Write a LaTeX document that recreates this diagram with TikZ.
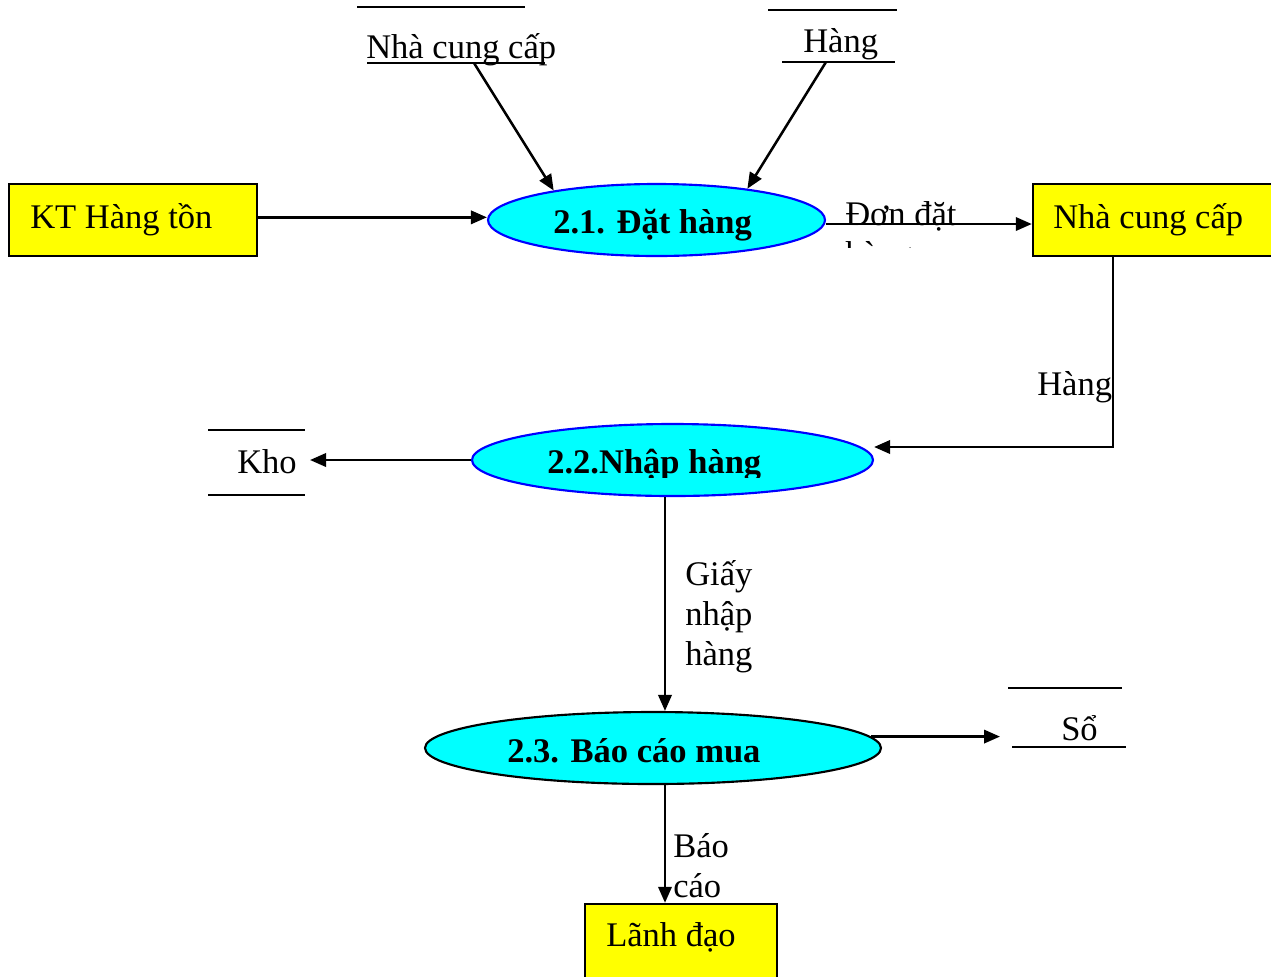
\documentclass[tikz,border=0pt]{standalone}
\usepackage{fontspec}
\setmainfont{Liberation Serif}
\usetikzlibrary{arrows.meta,shapes.geometric}
\definecolor{entfill}{RGB}{255,255,0}
\definecolor{procfill}{RGB}{0,255,255}
\definecolor{procline}{RGB}{0,0,255}
\begin{document}
\begin{tikzpicture}[x=0.75pt,y=-0.75pt,
  every node/.style={font=\fontsize{25.9pt}{30pt}\selectfont, inner sep=0pt},
  extbox/.style={rectangle, draw=black, line width=1.8pt, fill=entfill},
  proc/.style={ellipse, fill=procfill, draw=procline, line width=1.6pt, minimum height=54pt},
  lbl/.style={anchor=base west},
  mlbl/.style={anchor=base west, align=left},
  plbl/.style={anchor=base west, font=\fontsize{25.9pt}{30pt}\selectfont\bfseries},
  arr/.style={line width=1.9pt, -{Triangle[length=12pt,width=10pt]}},
  storeline/.style={line width=1.9pt}
]
\useasboundingbox (0,0) rectangle (1271,976);
\clip (0,0) rectangle (1271,976);

% external entities
\node[extbox, minimum width=186pt, minimum height=54pt] (kt) at (133,220) {};
\node[lbl] (ktt) at (30,228) {KT Hàng tồn};
\node[extbox, minimum width=192.75pt, minimum height=54pt] (ncc) at (1161.5,220) {};
\node[lbl] (ncct) at (1053,228) {Nhà cung cấp};
\node[extbox, minimum width=144pt, minimum height=64.5pt] (ld) at (681,947) {};
\node[lbl] (ldt) at (606,946) {Lãnh đạo};

% processes
\node[proc, minimum width=252.75pt] (p1) at (656.5,220) {};
\begin{scope}
  \clip (540,190) rectangle (770,241);
  \node[plbl] (p1t) at (553,233) {2.1. Đặt hàng};
\end{scope}
\node[proc, minimum width=300.75pt] (p2) at (672.5,460) {};
\begin{scope}
  \clip (530,430) rectangle (780,477);
  \node[plbl] (p2t) at (547,473) {2.2.Nhập hàng};
\end{scope}
\node[proc, draw=black, minimum width=342pt] (p3) at (653,748) {};
\node[plbl] (p3t) at (507,762) {2.3. Báo cáo mua};

% data stores
\draw[storeline] (357,7) -- (525,7);
\draw[storeline] (367,63) -- (545,63);
\coordinate (s1o) at (474,63);
\node[lbl] (s1t) at (366,58) {Nhà cung cấp};

\draw[storeline] (768,10) -- (897,10);
\draw[storeline] (782,62) -- (895,62);
\coordinate (s2o) at (826,62);
\node[lbl] (s2t) at (803,52) {Hàng};

\draw[storeline] (208,430) -- (305,430);
\draw[storeline] (208,495) -- (305,495);
\coordinate (s3i) at (310,460);
\node[lbl] (s3t) at (237,473) {Kho};

\draw[storeline] (1008,688) -- (1122,688);
\draw[storeline] (1012,747) -- (1126,747);
\coordinate (s4i) at (1000,736);
\node[lbl] (s4t) at (1061,740) {Sổ};

% flows
\draw[arr] (s1o) -- (p1.164);
\draw[arr] (s2o) -- (p1.19);
\draw[arr] ([yshift=2pt]kt.east) -- ([yshift=2pt]p1.west);
\draw[arr] ([yshift=-3pt]p1.east) -- ([yshift=-3pt]ncc.west);
\begin{scope}
  \clip (830,190) rectangle (1000,247);
  \node[mlbl] (dlbl) at (845,265) {Đơn đặt\\hàng};
\end{scope}

\coordinate (bend) at (1113,447);
\draw[arr] (ncc.south -| bend) -- (bend) -- (bend -| p2.east);
\node[lbl] (hlbl) at (1037,395) {Hàng};

\draw[arr] (p2.west) -- (s3i);

\coordinate (vx) at (665,0);
\draw[arr] (p2.south -| vx) -- (p3.north -| vx);
\node[mlbl] (glbl) at (685,665) {Giấy\\nhập\\hàng};

\draw[arr] (p3.3) -- (p3.3 -| s4i);

\draw[arr] (p3.south -| vx) -- (ld.north -| vx);
\node[mlbl] (blbl) at (673,897) {Báo\\cáo};
\end{tikzpicture}
\end{document}
